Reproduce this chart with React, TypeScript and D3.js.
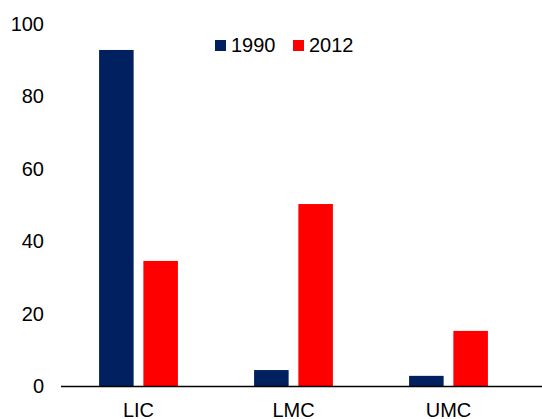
import React from "react";
import * as d3 from "d3";

const categories = ["LIC", "LMC", "UMC"];
const seriesNames = ["1990", "2012"];
const values1990 = [92.7, 4.4, 2.8];
const values2012 = [34.5, 50.2, 15.2];
const yTicks = [0, 20, 40, 60, 80, 100];
const colors = ["#002060", "#FF0000"];

export default function App() {
  const W = 542, H = 419;
  const x = d3.scaleBand<string>().domain(categories).range([61, 526]).paddingInner(0).paddingOuter(0);
  const inner = d3.scaleBand<string>().domain(seriesNames).range([0, x.bandwidth()]).paddingInner(0.22).paddingOuter(0.86);
  const y = d3.scaleLinear().domain([0, 100]).range([386, 23.5]);
  const series = [values1990, values2012];
  const font = "'Liberation Sans', Arial, sans-serif";
  return (
    <svg width={W} height={H} style={{ position: "absolute", left: 0, top: 0 }} fontFamily={font}>
      <rect width={W} height={H} fill="#fff" />
      {yTicks.map((t) => (
        <text key={t} x={44} y={y(t)} dy="0.36em" textAnchor="end" fontSize={20} fill="#000">
          {t}
        </text>
      ))}
      {categories.map((c, i) =>
        seriesNames.map((s, j) => (
          <rect
            key={c + s}
            x={(x(c) as number) + (inner(s) as number)}
            y={y(series[j][i])}
            width={inner.bandwidth()}
            height={y(0) - y(series[j][i])}
            fill={colors[j]}
          />
        ))
      )}
      <line x1={61} x2={542} y1={y(0) + 0.5} y2={y(0) + 0.5} stroke="#000" strokeWidth={1.5} />
      {categories.map((c) => (
        <text key={c} x={(x(c) as number) + x.bandwidth() / 2} y={417} textAnchor="middle" fontSize={20} fill="#000">
          {c}
        </text>
      ))}
      {seriesNames.map((s, j) => (
        <g key={s} transform={`translate(${215 + j * 78},0)`}>
          <rect x={0} y={40} width={11} height={11} fill={colors[j]} />
          <text x={16} y={52} fontSize={20} fill="#000">{s}</text>
        </g>
      ))}
    </svg>
  );
}
